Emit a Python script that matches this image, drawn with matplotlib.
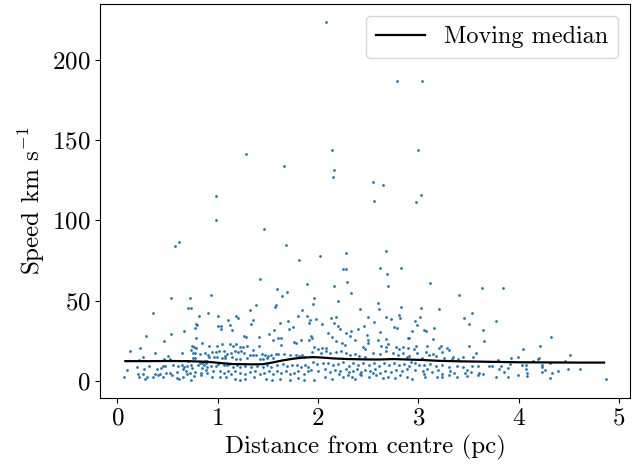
import numpy as np
import matplotlib.pyplot as plt

plt.rcParams['font.family'] = 'serif'
plt.rcParams['font.serif'] = ['cmr10']
plt.rcParams['mathtext.fontset'] = 'cm'
plt.rcParams['axes.formatter.use_mathtext'] = True
plt.rcParams['font.size'] = 18

# (distance pc, speed km/s), grouped by region
high_speed = [
    (2.08, 223.4), (1.28, 141), (1.66, 134), (2.14, 144), (2.16, 131.5),
    (2.15, 127), (0.98, 115), (2.79, 187), (3.04, 187), (3.00, 143.7),
    (2.55, 124), (2.65, 122), (3.03, 115.7), (0.98, 100), (1.46, 94.6),
    (1.68, 84.5), (0.61, 86.8), (0.57, 84.3), (2.28, 79.5), (1.81, 75),
    (2.02, 78), (2.25, 69.4), (2.28, 69.4), (1.42, 63.4), (2.29, 61.7),
    (1.89, 60.4), (2.16, 59.4), (1.59, 57), (1.69, 55.5), (1.64, 53),
    (2.33, 54.5), (0.93, 53.4), (0.53, 51.5), (0.72, 51.5), (1.96, 51.5),
    (2.56, 111.8), (2.98, 111.4), (2.68, 80.7), (2.62, 70.2), (2.83, 70.2),
    (2.69, 66.5), (2.70, 58.8), (3.12, 61), (3.63, 58), (3.84, 57.8),
    (3.40, 53.2),
]

band_0 = [
    (0.70, 45.5), (0.73, 45.5), (0.36, 42.2), (0.90, 42.2), (0.81, 40.3),
    (0.78, 35.4), (0.79, 34.5), (0.77, 33.1), (0.66, 31.0), (0.29, 28.1),
    (0.53, 29.0), (0.78, 26.5), (0.46, 24.6), (0.84, 23.4), (0.23, 20.7),
    (0.13, 18.8), (0.38, 17.6), (0.91, 21.7), (0.74, 21.7), (0.76, 21.3),
    (0.78, 20.5), (0.73, 19.2), (0.64, 17.6), (0.77, 17.1), (0.75, 17.1),
    (0.82, 16.5), (0.87, 17.1), (0.90, 16.3), (0.91, 15.1), (0.26, 15.1),
    (0.50, 15.3), (0.46, 13.8), (0.52, 13.8), (0.75, 14.0), (0.77, 14.0),
    (0.70, 12.6), (0.22, 13.2), (0.87, 12.4), (0.89, 12.6), (0.85, 11.6),
    (0.88, 11.1), (0.82, 10.9), (0.84, 10.9), (0.32, 9.5), (0.20, 8.5),
    (0.10, 7.0), (0.39, 7.6), (0.43, 8.2), (0.45, 9.1), (0.47, 9.3),
    (0.55, 9.9), (0.60, 9.3), (0.64, 9.9), (0.66, 8.9), (0.69, 9.3),
    (0.73, 9.7), (0.80, 9.7), (0.86, 9.9), (0.89, 8.9), (0.84, 8.0),
    (0.88, 6.8), (0.59, 5.8), (0.65, 7.6), (0.27, 7.2), (0.68, 6.4),
    (0.74, 8.0), (0.48, 5.1), (0.52, 5.1), (0.38, 4.3), (0.40, 3.5),
    (0.42, 4.1), (0.21, 4.1), (0.26, 4.1), (0.22, 2.4), (0.07, 2.4),
    (0.36, 2.4), (0.45, 2.2), (0.54, 3.5), (0.69, 4.3), (0.72, 4.7),
    (0.76, 2.9), (0.30, 2.2), (0.28, 1.0), (0.59, 1.8), (0.61, 1.0),
    (0.65, 2.2), (0.73, 0.6), (0.83, 4.7), (0.83, 3.7), (0.77, 5.6),
    (0.89, 5.1),
]

band_1 = [
    (1.58, 47.4), (1.57, 46.2), (1.38, 47.4), (1.32, 44.3), (1.84, 44.3),
    (1.00, 40.2), (1.18, 40.6), (1.20, 39.3), (1.10, 37.7), (1.35, 37.9),
    (1.33, 35.4), (1.70, 37.5), (1.80, 40.2), (1.89, 40.2), (1.91, 35.8),
    (1.62, 36.2), (1.00, 34.4), (1.03, 34.4), (1.03, 32.5), (1.12, 35.0),
    (1.14, 31.7), (1.71, 32.5), (1.75, 33.3), (1.56, 31.8), (1.51, 29.2),
    (1.26, 28.1), (1.28, 27.1), (1.41, 27.5), (1.60, 26.9), (1.63, 26.9),
    (1.55, 25.2), (1.83, 25.4), (1.76, 24.0), (1.78, 23.8), (1.91, 25.2),
    (0.99, 21.7), (1.04, 22.8), (1.12, 22.9), (1.15, 21.9), (1.18, 22.9),
    (1.22, 21.3), (1.25, 20.9), (1.29, 21.5), (1.41, 21.5), (1.35, 19.4),
    (1.63, 22.5), (0.94, 17.8), (0.98, 17.8), (1.01, 18.8), (1.06, 18.4),
    (1.09, 16.7), (1.07, 15.3), (1.13, 17.4), (1.17, 18.4), (1.20, 17.8),
    (1.23, 18.4), (1.26, 17.4), (1.32, 16.3), (1.35, 16.3), (1.38, 15.9),
    (1.44, 17.0), (1.47, 16.1), (1.50, 15.5), (1.53, 15.9), (1.58, 16.7),
    (1.60, 16.7), (1.66, 16.7), (1.72, 16.1), (1.78, 16.1), (1.81, 15.3),
    (1.84, 16.1), (1.86, 14.9), (0.96, 14.7), (0.99, 15.1), (1.04, 14.0),
    (1.07, 14.0), (1.14, 14.7), (1.18, 13.7), (1.22, 13.7), (1.29, 14.3),
    (1.42, 13.7), (1.45, 13.5), (1.49, 14.0), (1.55, 14.3), (0.93, 9.5),
    (0.98, 9.5), (1.00, 10.7), (1.06, 10.1), (1.09, 10.1), (1.11, 10.7),
    (1.15, 8.9), (1.19, 9.9), (1.22, 8.9), (1.27, 9.3), (1.33, 8.9),
    (1.39, 9.5), (1.45, 8.9), (1.49, 9.9), (1.53, 8.9), (1.59, 10.1),
    (1.65, 10.5), (1.69, 9.5), (1.74, 9.7), (1.79, 10.1), (1.83, 8.9),
    (1.87, 10.1), (1.90, 8.9), (0.95, 6.4), (1.02, 6.0), (1.06, 5.1),
    (1.10, 6.4), (1.13, 4.3), (1.17, 6.0), (1.22, 5.1), (1.27, 4.3),
    (1.32, 5.4), (1.37, 6.0), (1.42, 4.3), (1.46, 5.1), (1.51, 6.0),
    (1.55, 4.3), (1.59, 6.4), (1.63, 5.1), (1.68, 6.0), (1.72, 4.3),
    (1.76, 5.1), (1.80, 6.0), (1.86, 4.3), (1.90, 6.4), (0.94, 2.7),
    (1.02, 2.2), (1.08, 2.2), (1.17, 1.0), (1.22, 0.6), (1.27, 1.0),
    (1.36, 2.7), (1.48, 1.2), (1.54, 0.6), (1.62, 1.0), (1.72, 0.6),
    (1.80, 1.8), (1.86, 0.5),
]

band_2 = [
    (2.20, 49.5), (1.95, 47.8), (2.60, 48.2), (2.61, 44.5), (2.42, 44.9),
    (2.83, 46.2), (2.81, 41.2), (2.82, 39.1), (2.68, 39.9), (2.73, 38.3),
    (2.50, 39.5), (2.56, 36.4), (2.13, 39.1), (2.18, 39.5), (1.98, 38.3),
    (1.92, 37.9), (2.04, 35.4), (2.16, 36.2), (2.20, 33.9), (2.22, 32.1),
    (2.33, 31.3), (2.28, 29.6), (2.40, 32.3), (2.46, 34.4), (2.49, 28.8),
    (2.62, 30.2), (2.76, 33.3), (2.79, 32.7), (2.90, 26.7), (2.10, 29.6),
    (2.14, 27.5), (2.18, 25.0), (1.93, 27.9), (1.94, 26.7), (2.32, 28.1),
    (2.37, 25.4), (2.68, 26.1), (2.70, 22.9), (2.60, 25.6), (2.50, 25.6),
    (2.50, 23.4), (2.24, 23.4), (2.27, 22.5), (1.96, 20.9), (2.00, 19.8),
    (2.04, 20.5), (2.08, 20.5), (2.45, 20.9), (2.47, 19.8), (2.63, 21.9),
    (2.68, 20.9), (2.78, 20.9), (2.81, 19.8), (2.85, 20.9), (2.90, 20.5),
    (1.94, 17.8), (2.03, 17.2), (2.08, 18.4), (2.12, 17.2), (2.18, 17.8),
    (2.23, 18.4), (2.28, 17.2), (2.32, 16.1), (2.37, 16.7), (2.41, 15.5),
    (2.47, 15.1), (2.55, 17.6), (2.62, 16.7), (2.68, 18.4), (2.75, 17.2),
    (2.80, 16.3), (2.85, 17.2), (2.89, 15.1), (1.95, 11.6), (1.99, 10.5),
    (2.05, 11.4), (2.10, 10.9), (2.15, 10.1), (2.20, 10.5), (2.25, 11.6),
    (2.31, 9.5), (2.35, 10.9), (2.40, 10.1), (2.45, 11.4), (2.51, 10.1),
    (2.56, 10.9), (2.61, 9.5), (2.66, 10.9), (2.71, 10.1), (2.76, 10.9),
    (2.81, 10.1), (2.86, 10.5), (2.91, 9.5), (1.93, 6.8), (2.00, 6.0),
    (2.07, 7.2), (2.12, 5.4), (2.17, 6.8), (2.22, 6.0), (2.28, 7.2),
    (2.31, 5.6), (2.35, 6.4), (2.39, 7.4), (2.43, 5.4), (2.47, 6.8),
    (2.52, 6.0), (2.57, 7.2), (2.62, 5.1), (2.67, 6.4), (2.73, 5.4),
    (2.78, 6.8), (2.84, 6.0), (2.89, 7.2), (1.96, 0.6), (2.07, 2.2),
    (2.14, 1.4), (2.25, 2.2), (2.30, 3.5), (2.34, 2.2), (2.37, 1.4),
    (2.43, 3.5), (2.51, 2.2), (2.58, 3.5), (2.65, 1.8), (2.70, 2.7),
    (2.77, 1.8), (2.82, 3.5), (2.89, 2.2), (2.21, 4.3), (2.42, 4.3),
    (2.55, 4.7),
]

band_3 = [
    (3.03, 45.1), (3.21, 44.5), (3.53, 42.4), (3.45, 39.3), (2.97, 37.3),
    (3.02, 39.7), (2.99, 35.0), (3.50, 35.2), (3.77, 37.0), (2.94, 31.1),
    (3.06, 31.7), (3.08, 31.3), (3.16, 32.9), (3.64, 31.5), (3.15, 26.1),
    (3.65, 24.6), (2.91, 26.5), (2.98, 21.7), (3.09, 21.7), (3.23, 21.7),
    (3.21, 20.5), (3.28, 20.5), (3.30, 19.2), (3.50, 21.9), (2.96, 19.8),
    (2.99, 17.6), (3.08, 17.8), (3.15, 16.7), (3.18, 15.5), (3.24, 17.8),
    (3.34, 15.1), (3.57, 17.6), (3.54, 14.7), (3.44, 15.1), (2.91, 15.7),
    (3.04, 14.0), (3.11, 15.9), (3.26, 14.3), (3.33, 13.8), (3.39, 13.5),
    (3.79, 13.2), (2.93, 11.6), (2.97, 11.4), (3.01, 10.1), (3.06, 9.7),
    (3.12, 10.5), (3.18, 9.3), (3.24, 10.1), (3.30, 8.9), (3.38, 9.3),
    (3.44, 8.9), (3.53, 9.3), (3.59, 9.5), (3.70, 9.5), (3.73, 9.1),
    (3.82, 9.5), (3.89, 8.0), (3.80, 7.2), (3.85, 5.8), (2.97, 6.8),
    (3.05, 6.0), (3.09, 7.2), (3.14, 5.6), (3.20, 6.8), (3.24, 4.3),
    (3.31, 6.0), (3.35, 5.1), (3.48, 6.8), (3.52, 5.6), (3.60, 5.1),
    (3.64, 4.3), (3.06, 4.3), (3.07, 2.7), (3.19, 2.2), (3.24, 2.7),
    (3.30, 3.9), (3.38, 2.2), (3.46, 4.7), (3.48, 3.1), (3.59, 3.5),
    (3.77, 2.2), (3.89, 2.2), (2.94, 1.0),
]

band_4 = [
    (4.32, 27.1), (4.21, 21.9), (4.04, 20.0), (3.92, 14.3), (3.99, 15.1),
    (4.51, 15.9), (4.14, 12.6), (4.19, 13.8), (4.20, 14.5), (4.46, 12.6),
    (3.91, 10.5), (4.03, 9.7), (4.07, 10.1), (4.23, 9.7), (4.23, 8.5),
    (4.31, 11.4), (4.07, 7.2), (4.26, 6.8), (4.39, 6.0), (4.49, 7.2),
    (4.61, 7.2), (4.08, 5.1), (4.23, 5.6), (4.33, 4.7), (3.99, 3.9),
    (4.08, 3.1), (4.31, 1.8), (4.87, 1.0),
]

# moving median of the speeds along distance
median_dist = [0.08, 0.3, 0.5, 0.7, 0.85, 0.95, 1.05, 1.15, 1.25, 1.35, 1.45,
               1.55, 1.65, 1.75, 1.85, 1.95, 2.05, 2.15, 2.3, 2.45, 2.6, 2.75,
               2.9, 3.05, 3.2, 3.4, 3.6, 3.8, 4.0, 4.3, 4.6, 4.85]
median_speed = [12.3, 12.3, 12.4, 12.3, 12.0, 11.6, 11.0, 10.5, 10.4, 10.3, 10.4,
                11.5, 12.8, 13.8, 14.5, 14.8, 14.5, 14.0, 13.6, 13.4, 13.3, 13.6,
                13.3, 13.0, 12.5, 12.2, 12.0, 11.8, 11.6, 11.5, 11.4, 11.4]

pts = np.array(high_speed + band_0 + band_1 + band_2 + band_3 + band_4)
dist = pts[:, 0]
speed = pts[:, 1]

fig = plt.figure(figsize=(6.43, 4.71), dpi=100)
ax = fig.add_subplot(111)
ax.scatter(dist, speed, s=4, color='#1f77b4', linewidths=0)
ax.plot(median_dist, median_speed, color='black', lw=1.6, label='Moving median')
ax.set_xlabel('Distance from centre (pc)')
ax.set_ylabel(r'Speed km s$^{-1}$')
ax.legend(loc='upper right', fontsize=17.5)

fig.subplots_adjust(left=0.156, right=0.98, bottom=0.155, top=0.991)
fig.savefig('out.png', dpi=100)
